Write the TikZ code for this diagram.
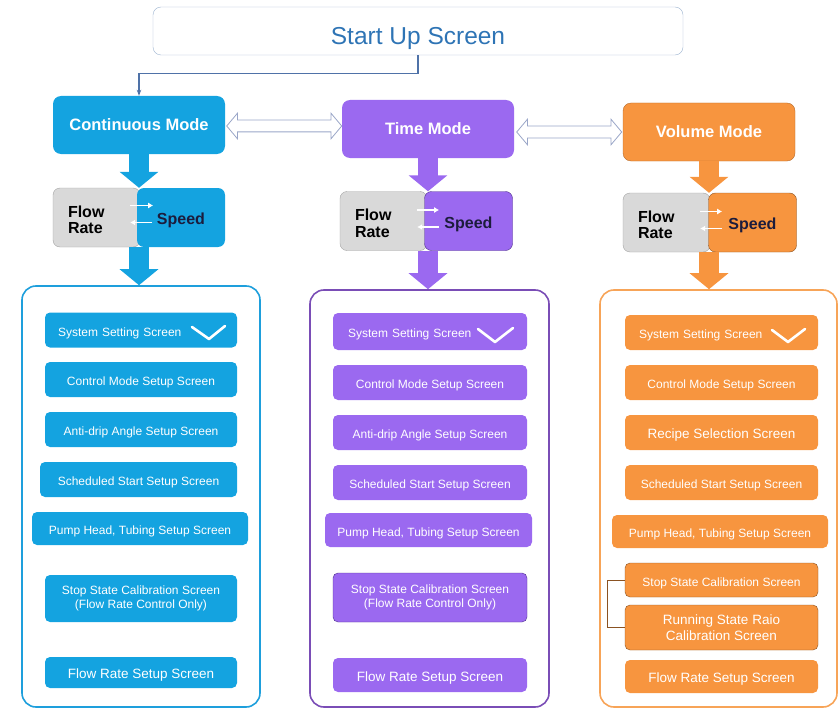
\documentclass[tikz,border=0pt]{standalone}
\usepackage[HTML]{xcolor}
\usepackage{fontspec}
\setmainfont{Liberation Sans}
\usepackage{tikz}
\usetikzlibrary{positioning, arrows, arrows.meta, shapes.arrows}

\definecolor{cblue}{HTML}{14A3E0}
\definecolor{cline}{HTML}{1E9FDC}
\definecolor{tpurple}{HTML}{9B69F0}
\definecolor{tline}{HTML}{7A4DB6}
\definecolor{tdark}{HTML}{4E2F8C}
\definecolor{vorange}{HTML}{F7953F}
\definecolor{vline}{HTML}{F7A458}
\definecolor{vdark}{HTML}{8A5222}
\definecolor{frgray}{HTML}{D9D9D9}
\definecolor{frline}{HTML}{A3A3A3}
\definecolor{spdark}{HTML}{1C1C3C}
\definecolor{startline}{HTML}{9DB3D0}
\definecolor{starttext}{HTML}{2E74B5}
\definecolor{linkline}{HTML}{4F72A8}
\definecolor{swapline}{HTML}{9AA6C8}

\begin{document}
\begin{tikzpicture}[x=1pt, y=-1pt,
  modebox/.style={rounded corners=8pt, minimum width=172pt, minimum height=58pt, inner sep=0pt, text=white, font=\fontsize{16.5}{19}\selectfont\bfseries},
  frbox/.style={rounded corners=7pt, fill=frgray, draw=frline, minimum width=87pt, minimum height=59pt, text width=57pt, inner xsep=15pt, inner ysep=0pt, align=left, text height=16.5pt, font=\fontsize{16}{16.5}\selectfont\bfseries},
  spbox/.style={rounded corners=7pt, minimum width=88pt, minimum height=59pt, inner sep=0pt, text=spdark, text height=14.4pt, text depth=0pt, font=\fontsize{16}{19}\selectfont\bfseries},
  panel/.style={rounded corners=14pt, line width=1.6pt, minimum width=238pt, minimum height=418pt, inner sep=0pt},
  scr/.style={rounded corners=5pt, minimum width=192pt, minimum height=35pt, inner sep=0pt, text=white, align=center, font=\fontsize{12}{14.5}\selectfont},
  oneline/.style={text height=12.5pt, text depth=0pt},
  bigscr/.style={font=\fontsize{13.5}{16}\selectfont},
  bigarrow/.style={line width=20pt, -{Triangle[length=16pt, width=38pt]}},
  modeswap/.style={double arrow, draw=swapline, fill=white, line width=0.8pt, inner sep=5.5pt, double arrow head extend=7pt, double arrow tip angle=100, minimum height=115pt},
  checkmark/.style={white, line width=2.6pt, line cap=round, line join=round},
  inarrow/.style={white, line width=1.4pt, -{Latex[length=5pt,width=6pt]}}
]
\useasboundingbox (0,0) rectangle (839,709);

% top
\node (start) [draw=startline, rounded corners=8pt, minimum width=530pt, minimum height=48pt, inner sep=0pt, text height=27pt, text depth=0pt, text=starttext, font=\fontsize{24.5}{29}\selectfont] at (418,31) {Start Up Screen};

% modes
\node (CM) [modebox, fill=cblue] at (139,125) {Continuous Mode};
\node (TM) [modebox, fill=tpurple] at (428,129) {Time Mode};
\node (VM) [modebox, fill=vorange, draw=vdark!60!vorange] at (709,132) {Volume Mode};

\draw[linkline, line width=1.2pt, -{Stealth[length=6pt]}] (start.south) -- ++(0,18) -| (CM.north);
\node (CT) [modeswap, right=1pt of CM, yshift=-1pt] {};
\node (TV) [modeswap, right=2pt of TM, yshift=-3pt, minimum height=105pt] {};

% flow rate / speed
\node (CFR) [frbox] at (96.5,217.5) {Flow\\Rate};
\node (CSp) [spbox, fill=cblue] at (181,217.5) {Speed};
\node (TFR) [frbox] at (383.5,221) {Flow\\Rate};
\node (TSp) [spbox, fill=tpurple, draw=tdark] at (468.5,221) {Speed};
\node (VFR) [frbox] at (666.5,222.5) {Flow\\Rate};
\node (VSp) [spbox, fill=vorange, draw=vdark] at (752.5,222.5) {Speed};

\draw[inarrow] ([xshift=-10pt,yshift=12pt]CFR.east) -- ([xshift=13pt,yshift=12pt]CFR.east);
\draw[inarrow] ([xshift=12pt,yshift=-5pt]CFR.east) -- ([xshift=-10pt,yshift=-5pt]CFR.east);
\draw[inarrow] ([xshift=-10pt,yshift=11pt]TFR.east) -- ([xshift=12pt,yshift=11pt]TFR.east);
\draw[inarrow] ([xshift=12pt,yshift=-6pt]TFR.east) -- ([xshift=-10pt,yshift=-6pt]TFR.east);
\draw[inarrow] ([xshift=-10pt,yshift=11pt]VFR.east) -- ([xshift=12pt,yshift=11pt]VFR.east);
\draw[inarrow] ([xshift=12pt,yshift=-6pt]VFR.east) -- ([xshift=-10pt,yshift=-6pt]VFR.east);

% panels
\node (Cbox) [panel, draw=cline, minimum height=421pt] at (141,496.5) {};
\node (Tbox) [panel, draw=tline, minimum width=239pt, minimum height=417pt] at (429.5,498.5) {};
\node (Vbox) [panel, draw=vline, minimum width=237pt, minimum height=417pt] at (718.5,498.5) {};

\draw[bigarrow, cblue] (CM.south) -- (CM.south |- CFR.north);
\draw[bigarrow, cblue] (CM.south |- CFR.south) -- (CM.south |- Cbox.north);
\draw[bigarrow, tpurple] (TM.south) -- (TM.south |- TFR.north);
\draw[bigarrow, tpurple] (TM.south |- TFR.south) -- (TM.south |- Tbox.north);
\draw[bigarrow, vorange] (VM.south) -- (VM.south |- VFR.north);
\draw[bigarrow, vorange] (VM.south |- VFR.south) -- (VM.south |- Vbox.north);

% continuous screens
\node (C1) [scr, oneline, fill=cblue, text width=166pt, inner xsep=13pt, align=left] at (141,330) {System Setting Screen};
\node (C2) [scr, oneline, fill=cblue] at (141,379.5) {Control Mode Setup Screen};
\node (C3) [scr, oneline, fill=cblue] at (141,429.5) {Anti-drip Angle Setup Screen};
\node (C4) [scr, oneline, fill=cblue, minimum width=197pt] at (138.5,479.5) {Scheduled Start Setup Screen};
\node (C5) [scr, oneline, fill=cblue, minimum width=216pt, minimum height=33pt] at (140,528.5) {Pump Head, Tubing Setup Screen};
\node (C6) [scr, fill=cblue, minimum height=47pt] at (141,598.5) {Stop State Calibration Screen\\(Flow Rate Control Only)};
\node (C7) [scr, bigscr, oneline, fill=cblue, minimum height=31pt] at (141,672.5) {Flow Rate Setup Screen};
\draw[checkmark] (192,327) -- (209,339) -- (225,326);

% time screens
\node (T1) [scr, oneline, fill=tpurple, minimum width=194pt, minimum height=37pt, text width=164pt, inner xsep=15pt, align=left] at (430,331.5) {System Setting Screen};
\node (T2) [scr, oneline, fill=tpurple, minimum width=194pt] at (430,382.5) {Control Mode Setup Screen};
\node (T3) [scr, oneline, fill=tpurple, minimum width=194pt] at (430,432.5) {Anti-drip Angle Setup Screen};
\node (T4) [scr, oneline, fill=tpurple, minimum width=194pt] at (430,482.5) {Scheduled Start Setup Screen};
\node (T5) [scr, oneline, fill=tpurple, minimum width=207pt, minimum height=34pt] at (428.5,530) {Pump Head, Tubing Setup Screen};
\node (T6) [scr, fill=tpurple, draw=tdark, minimum width=194pt, minimum height=49pt] at (430,597.5) {Stop State Calibration Screen\\(Flow Rate Control Only)};
\node (T7) [scr, bigscr, oneline, fill=tpurple, minimum width=194pt, minimum height=34pt] at (430,675) {Flow Rate Setup Screen};
\draw[checkmark] (478,329) -- (495,342) -- (513,328);

% volume screens
\node (V1) [scr, oneline, fill=vorange, minimum width=193pt, text width=165pt, inner xsep=14pt, align=left] at (721.5,332.5) {System Setting Screen};
\node (V2) [scr, oneline, fill=vorange, minimum width=193pt] at (721.5,382.5) {Control Mode Setup Screen};
\node (V3) [scr, bigscr, oneline, fill=vorange, minimum width=193pt] at (721.5,432.5) {Recipe Selection Screen};
\node (V4) [scr, oneline, fill=vorange, minimum width=193pt] at (721.5,482.5) {Scheduled Start Setup Screen};
\node (V5) [scr, oneline, fill=vorange, minimum width=216pt, minimum height=33pt] at (720,531.5) {Pump Head, Tubing Setup Screen};
\node (V6) [scr, oneline, fill=vorange, draw=vdark, minimum width=193pt, minimum height=34pt] at (721.5,580) {Stop State Calibration Screen};
\node (V7) [scr, bigscr, fill=vorange, draw=vdark, minimum width=193pt, minimum height=45pt] at (721.5,627.5) {Running State Raio\\Calibration Screen};
\node (V8) [scr, bigscr, oneline, fill=vorange, minimum width=193pt, minimum height=33pt] at (721.5,676.5) {Flow Rate Setup Screen};
\draw[checkmark] (772,330) -- (788,342) -- (805,329);

\draw[vdark, line width=0.8pt] (V6.west) -- ++(-17,0) |- (V7.west);
\end{tikzpicture}
\end{document}
